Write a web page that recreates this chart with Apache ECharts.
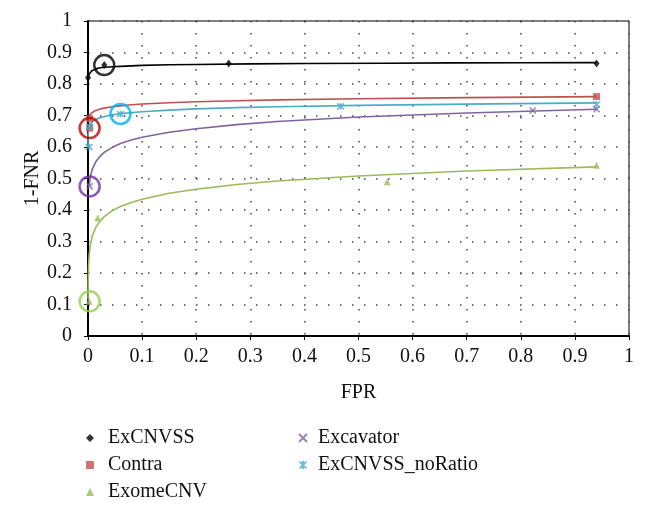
<!DOCTYPE html>
<html>
<head>
<meta charset="utf-8">
<script src="https://cdn.jsdelivr.net/npm/echarts@6/dist/echarts.min.js"></script>
<style>html,body{margin:0;padding:0;background:#fff}#c{width:647px;height:512px}</style>
</head>
<body>
<div id="c"></div>
<script>
// ---- tick labels ----
const xTickLabels = ['0','0.1','0.2','0.3','0.4','0.5','0.6','0.7','0.8','0.9','1'];
const yTickLabels = ['0','0.1','0.2','0.3','0.4','0.5','0.6','0.7','0.8','0.9','1'];

// ---- series names ----
const names = ['ExCNVSS','Contra','ExomeCNV','Excavator','ExCNVSS_noRatio'];

// ---- observed points (FPR, 1-FNR) ----
const excnvssX = [0.0, 0.03, 0.26, 0.94];
const excnvssY = [0.82, 0.86, 0.865, 0.865];
const contraX = [0.003, 0.003, 0.94];
const contraY = [0.69, 0.66, 0.76];
const exomeX = [0.002, 0.018, 0.553, 0.94];
const exomeY = [0.11, 0.375, 0.49, 0.542];
const excavatorX = [0.003, 0.822, 0.94];
const excavatorY = [0.475, 0.716, 0.72];
const noRatioX = [0.002, 0.003, 0.06, 0.467, 0.94];
const noRatioY = [0.60, 0.665, 0.705, 0.729, 0.735];

// ---- trend lines ----
const excnvssTrendX = [0.0, 0.001, 0.002, 0.004, 0.007, 0.01, 0.015, 0.02, 0.03, 0.045, 0.06, 0.1, 0.15, 0.2, 0.3, 0.4, 0.55, 0.67, 0.8, 0.94];
const excnvssTrendY = [0.82, 0.826, 0.831, 0.837, 0.842, 0.845, 0.848, 0.851, 0.853, 0.855, 0.856, 0.859, 0.861, 0.862, 0.864, 0.865, 0.866, 0.867, 0.8675, 0.868];
const contraTrendX = [0.0016, 0.003, 0.006, 0.012, 0.025, 0.05, 0.075, 0.1, 0.15, 0.2, 0.275, 0.35, 0.5, 0.7, 0.94];
const contraTrendY = [0.693, 0.6996, 0.7069, 0.7142, 0.7219, 0.7291, 0.7334, 0.7364, 0.7406, 0.7437, 0.7470, 0.7496, 0.7533, 0.7569, 0.7599];
const exomeTrendX = [0.0001, 0.0003, 0.001, 0.002, 0.004, 0.008, 0.015, 0.022, 0.03, 0.045, 0.06, 0.08, 0.1, 0.15, 0.2, 0.275, 0.35, 0.5, 0.7, 0.94];
const exomeTrendY = [0.116, 0.167, 0.222, 0.254, 0.286, 0.318, 0.347, 0.364, 0.379, 0.398, 0.411, 0.424, 0.434, 0.453, 0.466, 0.481, 0.492, 0.508, 0.524, 0.537];
const excavatorTrendX = [0.002, 0.004, 0.008, 0.015, 0.022, 0.03, 0.045, 0.06, 0.08, 0.1, 0.15, 0.2, 0.275, 0.35, 0.5, 0.7, 0.94];
const excavatorTrendY = [0.475, 0.503, 0.530, 0.555, 0.570, 0.583, 0.599, 0.611, 0.622, 0.631, 0.647, 0.658, 0.671, 0.681, 0.695, 0.708, 0.720];
const noRatioTrendX = [0.00001, 0.00005, 0.0003, 0.001, 0.003, 0.008, 0.02, 0.04, 0.06, 0.1, 0.15, 0.2, 0.275, 0.35, 0.5, 0.7, 0.94];
const noRatioTrendY = [0.60, 0.618, 0.640, 0.655, 0.669, 0.681, 0.692, 0.701, 0.706, 0.712, 0.717, 0.721, 0.725, 0.728, 0.732, 0.736, 0.740];

// ---- highlighted operating points (circles) ----
const circleX = [0.03, 0.003, 0.003, 0.003, 0.06];
const circleY = [0.86, 0.66, 0.11, 0.475, 0.705];

const colors = ['#000000', '#C0504D', '#9BBB59', '#8064A2', '#4BACC6'];
const circleColors = ['#000000', '#C00000', '#92D050', '#7030A0', '#00B0F0'];

const pairs = (xs, ys) => xs.map((x, i) => [x, ys[i]]);

const xPath = 'path://M0,0L10,10M10,0L0,10';
const starPath = 'path://M0,0L10,10M10,0L0,10M5,-1L5,11';
const symbols = ['diamond', 'rect', 'triangle', xPath, starPath];
const symSizes = [[6, 8], 7, 7, 6, 7];

const pts = [pairs(excnvssX, excnvssY), pairs(contraX, contraY), pairs(exomeX, exomeY), pairs(excavatorX, excavatorY), pairs(noRatioX, noRatioY)];
const trends = [pairs(excnvssTrendX, excnvssTrendY), pairs(contraTrendX, contraTrendY), pairs(exomeTrendX, exomeTrendY), pairs(excavatorTrendX, excavatorTrendY), pairs(noRatioTrendX, noRatioTrendY)];

const FONT = '"Liberation Serif", "DejaVu Serif", serif';

const series = [];
names.forEach((n, i) => {
  series.push({
    name: n + '_trend', type: 'line', data: trends[i], showSymbol: false, symbol: 'none',
    smooth: false, silent: true,
    lineStyle: { color: colors[i], width: 1.6, join: 'round' }, z: 2
  });
});
names.forEach((n, i) => {
  const isStroke = i >= 3;
  series.push({
    name: n, type: 'scatter', data: pts[i], symbol: symbols[i], symbolSize: symSizes[i],
    itemStyle: isStroke ? { color: colors[i], borderColor: colors[i], borderWidth: 1.6 } : { color: colors[i] },
    z: 3
  });
});
series.push({
  name: 'circles', type: 'scatter', symbol: 'circle', symbolSize: 20, z: 4, silent: true,
  data: circleX.map((x, i) => ({ value: [x, circleY[i]], itemStyle: { color: 'rgba(0,0,0,0)', borderColor: circleColors[i], borderWidth: 2.5 } }))
});

const legendCommon = {
  orient: 'vertical', itemWidth: 8, itemHeight: 8, itemGap: 7, selectedMode: false,
  padding: 0, height: 100,
  textStyle: { fontFamily: FONT, fontSize: 20, color: '#111', lineHeight: 20 }
};

const chart = echarts.init(document.getElementById('c'), null, { renderer: 'canvas' });
chart.setOption({
  animation: false,
  backgroundColor: '#fff',
  grid: { left: 88, right: 18, top: 21, bottom: 176, show: true, borderColor: '#000', borderWidth: 1 },
  xAxis: {
    type: 'value', min: 0, max: 1, interval: 0.1,
    name: 'FPR', nameLocation: 'middle', nameGap: 47, nameMoveOverlap: false,
    nameTextStyle: { fontFamily: FONT, fontSize: 20, color: '#111' },
    axisLine: { show: true, onZero: false, lineStyle: { color: '#000', width: 2 } },
    axisTick: { show: true, length: 4, lineStyle: { color: '#000' } },
    axisLabel: { fontFamily: FONT, fontSize: 20, color: '#111', margin: 11,
      formatter: v => xTickLabels[Math.round(v * 10)] },
    splitLine: { show: true, lineStyle: { color: '#444', width: 1.5, type: [1.5, 10.5] } }
  },
  yAxis: {
    type: 'value', min: 0, max: 1, interval: 0.1,
    name: '1-FNR', nameLocation: 'middle', nameGap: 45, nameRotate: 90, nameMoveOverlap: false,
    nameTextStyle: { fontFamily: FONT, fontSize: 20, color: '#111' },
    axisLine: { show: true, onZero: false, lineStyle: { color: '#000', width: 2 } },
    axisTick: { show: true, length: 4, lineStyle: { color: '#000' } },
    axisLabel: { fontFamily: FONT, fontSize: 20, color: '#111', margin: 16,
      formatter: v => yTickLabels[Math.round(v * 10)] },
    splitLine: { show: true, lineStyle: { color: '#444', width: 1.5, type: [1.5, 10.5] } }
  },
  legend: [
    Object.assign({}, legendCommon, { left: 86, top: 428, data: names.slice(0, 3),
      textStyle: Object.assign({}, legendCommon.textStyle, { padding: [0, 0, 0, 9] }) }),
    Object.assign({}, legendCommon, { left: 298, top: 428, data: names.slice(3),
      textStyle: Object.assign({}, legendCommon.textStyle, { padding: [0, 0, 0, 6] }) })
  ],
  series: series
});
</script>
</body>
</html>
